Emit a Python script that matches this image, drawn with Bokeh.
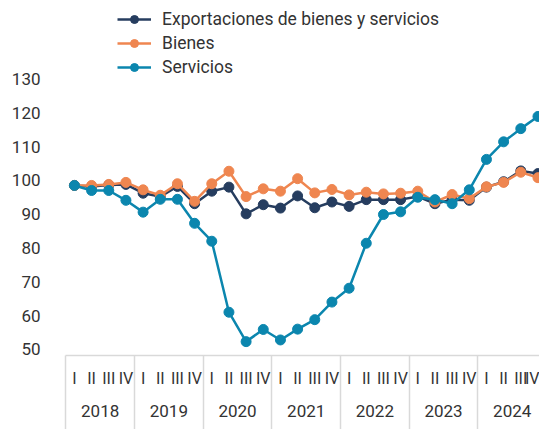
from bokeh.plotting import figure
from bokeh.models import Range1d, LinearAxis, FixedTicker, Legend, LegendItem, ColumnDataSource
from bokeh.embed import file_html
from bokeh.resources import INLINE

years = ["2018", "2019", "2020", "2021", "2022", "2023", "2024"]
quarters = ["I", "II", "III", "IV"]
y_ticks = [50, 60, 70, 80, 90, 100, 110, 120, 130]

exportaciones = [98.5, 98.2, 98.6, 98.8, 96.2, 95.2, 98.2, 93.1,
                 96.8, 98.0, 90.1, 92.8, 91.8, 95.4, 91.9, 93.6,
                 92.3, 94.3, 94.3, 94.3, 95.2, 93.1, 94.3, 94.1,
                 98.0, 99.6, 102.8, 102.0]
bienes = [98.5, 98.5, 98.8, 99.4, 97.2, 95.6, 99.0, 93.8,
          99.0, 102.7, 95.2, 97.5, 96.8, 100.5, 96.3, 97.3,
          95.7, 96.5, 96.0, 96.2, 96.8, 93.6, 95.8, 94.6,
          98.1, 99.4, 102.4, 100.8]
servicios = [98.5, 97.0, 97.0, 94.1, 90.6, 94.4, 94.4, 87.3,
             82.0, 61.0, 52.3, 55.9, 52.8, 56.0, 58.8, 64.0,
             68.1, 81.4, 89.9, 90.7, 95.0, 94.3, 93.1, 97.2,
             106.2, 111.4, 115.3, 118.9]

series_names = ["Exportaciones de bienes y servicios", "Bienes", "Servicios"]
colors = ["#263d5f", "#ef8650", "#0b86ae"]

n = len(years) * len(quarters)
xs = list(range(n))

FONT = "Roboto"
TEXT = "#333333"
GRID = "#d9d9d9"
SEP_LEN = 74

p = figure(width=539, height=429,
           x_range=Range1d(-0.52, 27.09), y_range=Range1d(48.2, 153.2),
           x_axis_type=None, y_axis_type=None,
           output_backend="svg", toolbar_location=None,
           min_border_left=65, min_border_right=0, min_border_top=0,
           min_border_bottom=SEP_LEN)
p.outline_line_color = None
p.background_fill_color = "white"
p.border_fill_color = "white"

# y axis
yax = LinearAxis(ticker=FixedTicker(ticks=y_ticks))
yax.axis_line_color = None
yax.major_tick_line_color = None
yax.major_tick_out = 0
yax.major_tick_in = 0
yax.minor_tick_line_color = None
yax.minor_tick_out = 0
yax.minor_tick_in = 0
yax.major_label_standoff = 25
yax.major_label_text_font = FONT
yax.major_label_text_font_size = "17px"
yax.major_label_text_color = TEXT
p.add_layout(yax, "left")

# quarter axis with year separators as long minor ticks
separators = [len(quarters) * k - 0.5 for k in range(len(years) + 1)]
qax = LinearAxis(ticker=FixedTicker(ticks=xs, minor_ticks=separators))
qax.major_label_overrides = {i: quarters[i % len(quarters)] for i in xs}
qax.major_tick_in = 0
qax.major_tick_out = 0
qax.major_tick_line_color = None
qax.minor_tick_in = 0
qax.minor_tick_out = SEP_LEN
qax.minor_tick_line_color = GRID
qax.minor_tick_line_width = 1.5
qax.axis_line_color = GRID
qax.axis_line_width = 1.5
qax.major_label_standoff = 13 - SEP_LEN
qax.major_label_text_font = FONT
qax.major_label_text_font_size = "16px"
qax.major_label_text_color = TEXT
p.add_layout(qax, "below")

# year axis
year_pos = [len(quarters) * k + (len(quarters) - 1) / 2 for k in range(len(years))]
yrax = LinearAxis(ticker=FixedTicker(ticks=year_pos))
yrax.major_label_overrides = {pos: yr for pos, yr in zip(year_pos, years)}
yrax.axis_line_color = None
yrax.major_tick_line_color = None
yrax.major_tick_out = 0
yrax.major_tick_in = 0
yrax.minor_tick_line_color = None
yrax.minor_tick_out = 0
yrax.minor_tick_in = 0
yrax.major_label_standoff = 14
yrax.major_label_text_font = FONT
yrax.major_label_text_font_size = "17px"
yrax.major_label_text_color = TEXT
p.add_layout(yrax, "below")

items = []
for name, vals, c in zip(series_names, [exportaciones, bienes, servicios], colors):
    src = ColumnDataSource(dict(x=xs, y=vals))
    ln = p.line("x", "y", source=src, line_color=c, line_width=2.5)
    sc = p.scatter("x", "y", source=src, size=10, fill_color=c, line_color=c)
    items.append(LegendItem(label=name, renderers=[ln, sc]))

legend = Legend(items=items, location=(52, 277), orientation="vertical")
legend.glyph_width = 34
legend.glyph_height = 20
legend.label_height = 22
legend.label_standoff = 11
legend.spacing = 2
legend.padding = 0
legend.margin = 0
legend.border_line_color = None
legend.background_fill_alpha = 0
legend.label_text_font = FONT
legend.label_text_font_size = "17.5px"
legend.label_text_color = TEXT
p.add_layout(legend, "center")

open("out.html", "w").write(file_html(p, INLINE))
